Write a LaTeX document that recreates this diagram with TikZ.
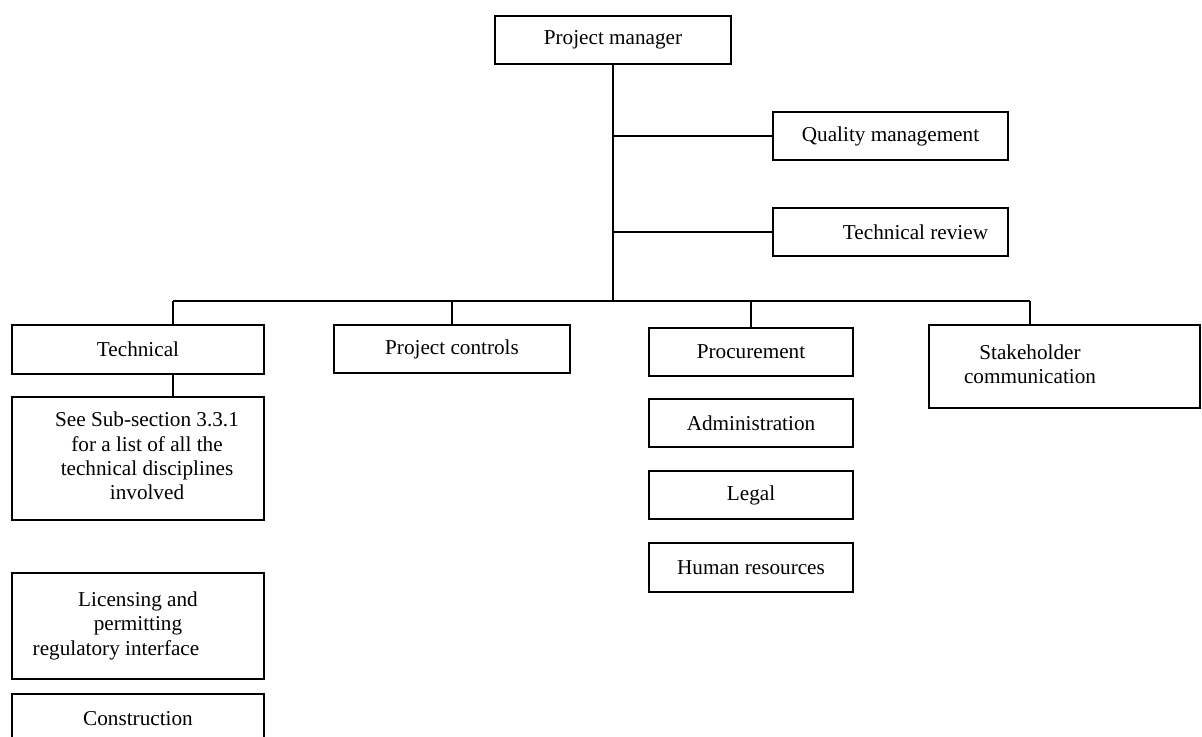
\documentclass[tikz,border=0pt]{standalone}
\usepackage{fontspec}
\setmainfont{Liberation Serif}
\usepackage{tikz}
\newcommand{\stack}[1]{\begin{tabular}{@{}c@{}}#1\end{tabular}}
\tikzset{
  orgbox/.style={draw,line width=0.9pt,inner sep=0pt,outer sep=0pt,
    font=\fontsize{10.6}{12.2}\selectfont},
  link/.style={line width=0.9pt}
}
\begin{document}
\begin{tikzpicture}[x=0.5pt,y=-0.5pt]
        \useasboundingbox (0,0) rectangle (1202,736);
        \clip (0,0) rectangle (1202,736);
        \node[orgbox,minimum width=118pt,minimum height=24pt] (pm) at (613,40) {Project manager};
        \node[orgbox,minimum width=117.5pt,minimum height=24pt] (qm) at (890.5,136) {Quality management};
        \node[orgbox,minimum width=117.5pt,minimum height=24pt] (tr) at (890.5,232) {\hspace*{25pt}Technical review};
        \node[orgbox,minimum width=126pt,minimum height=24.5pt] (tech) at (138,349.5) {Technical};
        \node[orgbox,minimum width=118pt,minimum height=24pt] (pc) at (452,349) {Project controls};
        \node[orgbox,minimum width=102pt,minimum height=24pt] (proc) at (751,352) {Procurement};
        \node[orgbox,minimum width=135.5pt,minimum height=41.5pt] (stake) at (1064.5,366.5) {\raisebox{3.5pt}{\stack{Stakeholder\\communication}}\hspace*{34.5pt}};
        \node[orgbox,minimum width=102pt,minimum height=24pt] (adm) at (751,423) {Administration};
        \node[orgbox,minimum width=102pt,minimum height=24pt] (legal) at (751,495) {Legal};
        \node[orgbox,minimum width=102pt,minimum height=24.5pt] (hr) at (751,567.5) {Human resources};
        \node[orgbox,minimum width=126pt,minimum height=61.5pt] (see) at (138,458.5) {\hspace*{9pt}\stack{See Sub-section 3.3.1\\for a list of all the\\technical disciplines\\involved}};
        \node[orgbox,minimum width=126pt,minimum height=53pt] (lic) at (138,626) {\raisebox{2pt}{\stack{Licensing and\\permitting\\regulatory interface\hspace*{22pt}}}};
        \node[orgbox,minimum width=126pt,minimum height=25pt] (cons) at (138,719) {Construction};
        % connectors
        \coordinate (bus) at (613,301);
        \coordinate (busL) at (173,301);
        \coordinate (busR) at (1030,301);
        \draw[link] (pm.south) -- (bus);
        \draw[link] (qm.west) -- (qm.west -| bus);
        \draw[link] (tr.west) -- (tr.west -| bus);
        \draw[link] (busL) -- (busR);
        \draw[link] (busL) -- (busL |- tech.north);
        \draw[link] (pc.north) -- (pc.north |- bus);
        \draw[link] (proc.north) -- (proc.north |- bus);
        \draw[link] (busR) -- (busR |- stake.north);
        \draw[link] (tech.south -| busL) -- (see.north -| busL);
      \end{tikzpicture}
\end{document}
